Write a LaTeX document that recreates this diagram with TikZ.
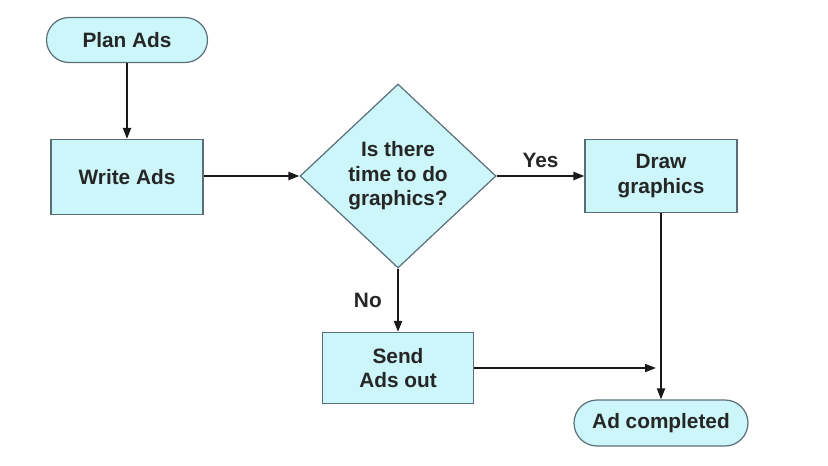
\documentclass[tikz,border=0pt]{standalone}
\usepackage{fontspec}
\setmainfont{Liberation Sans}[BoldFont={Liberation Sans Bold}]
\usetikzlibrary{arrows.meta,shapes.geometric,shapes.misc}
\definecolor{boxfill}{RGB}{204,246,250}
\definecolor{boxline}{RGB}{90,110,120}
\begin{document}
\begin{tikzpicture}[x=1pt,y=-1pt,>={Triangle[length=11pt,width=8pt]},
        every node/.style={font=\fontsize{20.8}{24.5}\selectfont\bfseries,text=black!85},
        terminal/.style={rounded rectangle,draw=boxline,line width=1.2pt,fill=boxfill,minimum height=45pt,inner sep=0pt},
        process/.style={rectangle,draw=boxline,line width=1.2pt,fill=boxfill,align=center,inner sep=0pt},
        decision/.style={diamond,draw=boxline,line width=1.2pt,fill=boxfill,align=center,inner sep=0pt,aspect=1.065,minimum width=196pt,minimum height=184pt},
        flow/.style={line width=1.9pt,black!90}]
        \useasboundingbox (0,0) rectangle (828,466);
        \node [terminal,minimum width=161pt] (plan) at (127,40) {Plan Ads};
        \node [process,minimum width=152pt,minimum height=75pt] (write) at (127,177) {Write Ads};
        \node [decision] (check) at (398,176) {Is there\\time to do\\graphics?};
        \node [process,minimum width=152pt,minimum height=73pt] (graphics) at (661,176) {Draw\\graphics};
        \node [process,minimum width=151pt,minimum height=71pt] (send) at (398,368) {Send\\Ads out};
        \node [terminal,minimum width=174pt,minimum height=46pt] (done) at (661,423) {Ad completed};
        \coordinate (meet) at ([xshift=-5pt]graphics.south |- send.east);
        \draw [flow,->] (plan) -- (write);
        \draw [flow,->] (write.east |- check.west) -- (check);
        \draw [flow,->] (check) -- (graphics) node [midway,above=4pt] {Yes};
        \draw [flow,->] (check) -- (send) node [midway,left=12pt] {No};
        \draw [flow,->] (graphics) -- (done);
        \draw [flow,->] (send) -- (meet);
    \end{tikzpicture}
\end{document}
